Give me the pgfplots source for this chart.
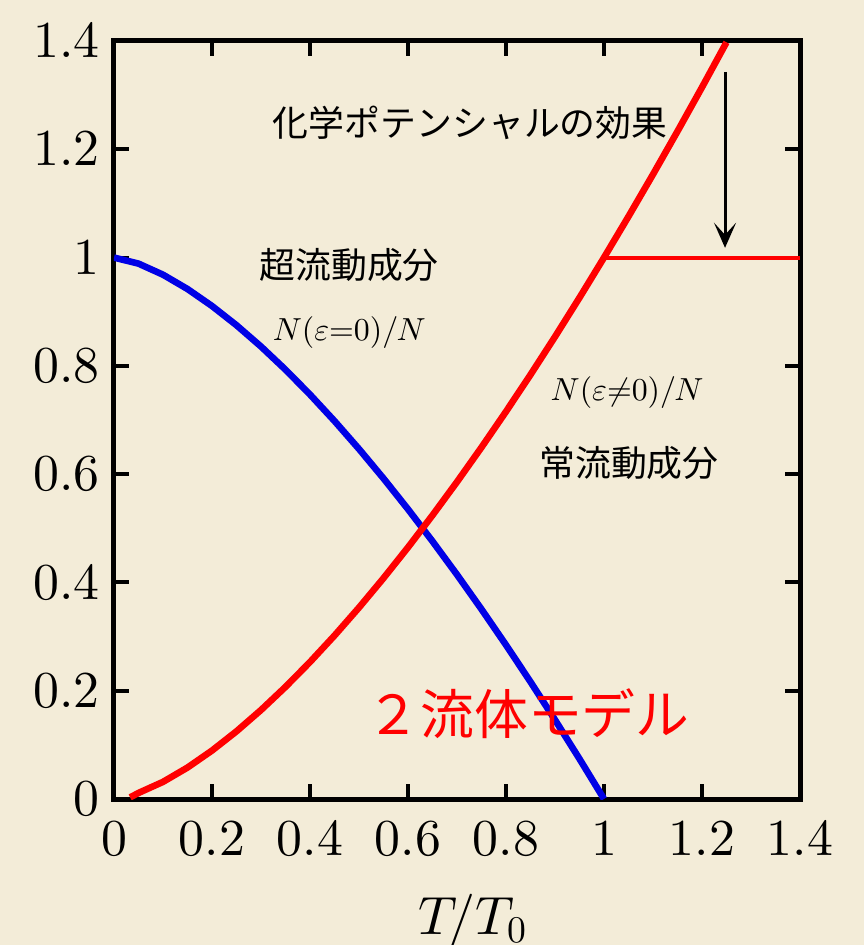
\documentclass[border=0pt]{standalone}
\usepackage[no-math]{fontspec}
\DeclareFontShape{OT1}{cmr}{m}{n}{<-> cmr10}{}
\DeclareFontShape{OML}{cmm}{m}{it}{<-> cmmi10}{}
\DeclareFontShape{OMS}{cmsy}{m}{n}{<-> cmsy10}{}
\usepackage{pgfplots}
\pgfplotsset{compat=1.18}
\usetikzlibrary{arrows.meta}
\newfontfamily\jp{Noto Sans CJK JP}
\definecolor{bg}{RGB}{243,236,216}
\definecolor{cblue}{RGB}{0,0,230}
\definecolor{cred}{RGB}{255,0,0}
\pgfplotstableread{
T y
0 1
0.05 0.98882
0.1 0.96838
0.15 0.94191
0.2 0.91056
0.25 0.875
0.3 0.83568
0.35 0.79294
0.4 0.74702
0.45 0.69813
0.5 0.64645
0.55 0.59211
0.6 0.53524
0.65 0.47596
0.7 0.41434
0.75 0.35048
0.8 0.28446
0.85 0.21633
0.9 0.14619
0.95 0.07407
1.0 0
}\superfluid
\pgfplotstableread{
T y
0.033 0.003
0.05 0.01118
0.1 0.03162
0.15 0.05809
0.2 0.08944
0.25 0.125
0.3 0.16432
0.35 0.20706
0.4 0.25298
0.45 0.30187
0.5 0.35355
0.55 0.40789
0.6 0.46476
0.65 0.52404
0.7 0.58566
0.75 0.64952
0.8 0.71554
0.85 0.78367
0.9 0.85381
0.95 0.92593
1.0 1
1.05 1.07593
1.1 1.15369
1.15 1.23323
1.2 1.31453
1.25 1.39754
}\normalfluid
\begin{document}
\begin{tikzpicture}
\fill[bg] (-57bp,-73bp) rectangle (375bp,399.5bp);
\begin{axis}[
  at={(0,0)}, anchor=south west,
  scale only axis, width=343bp, height=379bp,
  xmin=0, xmax=1.4, ymin=0, ymax=1.4,
  xtick={0,0.2,0.4,0.6,0.8,1,1.2,1.4},
  ytick={0,0.2,0.4,0.6,0.8,1,1.2,1.4},
  tick align=inside, major tick length=7.5bp,
  every tick/.style={line width=2bp, black},
  axis line style={line width=2.5bp},
  tick label style={font=\fontsize{26}{30}\selectfont, inner sep=0pt},
  yticklabel style={xshift=-7bp},
  xticklabel style={yshift=-11.5bp},
  xlabel={$T\!/T_0$},
  xlabel style={font=\fontsize{27}{30}\selectfont, inner sep=0pt, at={(axis description cs:0.5,0)}, anchor=north, yshift=-47.5bp, xshift=8bp},
]
\addplot[cblue, line width=3.3bp, line join=round] table {\superfluid};
\addplot[cred, line width=3.3bp, line join=round] table {\normalfluid};
\addplot[cred, line width=2bp] coordinates {(1,1) (1.4,1)};
\draw[line width=1.5bp, -{Stealth[length=12.5bp,width=11bp,inset=6bp]}] (axis cs:1.247,1.343) -- (axis cs:1.247,1.018);
\node[font=\fontsize{18}{20}\selectfont\jp] at (axis cs:0.727,1.249) {化学ポテンシャルの効果};
\node[font=\fontsize{18}{20}\selectfont\jp] at (axis cs:0.480,0.986) {超流動成分};
\node[font=\fontsize{16}{18}\selectfont] at (axis cs:0.480,0.861) {$N(\varepsilon{=}0)/N$};
\node[font=\fontsize{16}{18}\selectfont] at (axis cs:1.047,0.750) {$N(\varepsilon{\neq}0)/N$};
\node[font=\fontsize{18}{20}\selectfont\jp] at (axis cs:1.051,0.621) {常流動成分};
\node[font=\fontsize{27}{30}\selectfont\jp, text=cred] at (axis cs:0.845,0.157) {２流体モデル};
\end{axis}
\pgfresetboundingbox
\path (-57bp,-73bp) rectangle (375bp,399.5bp);
\end{tikzpicture}
\end{document}
